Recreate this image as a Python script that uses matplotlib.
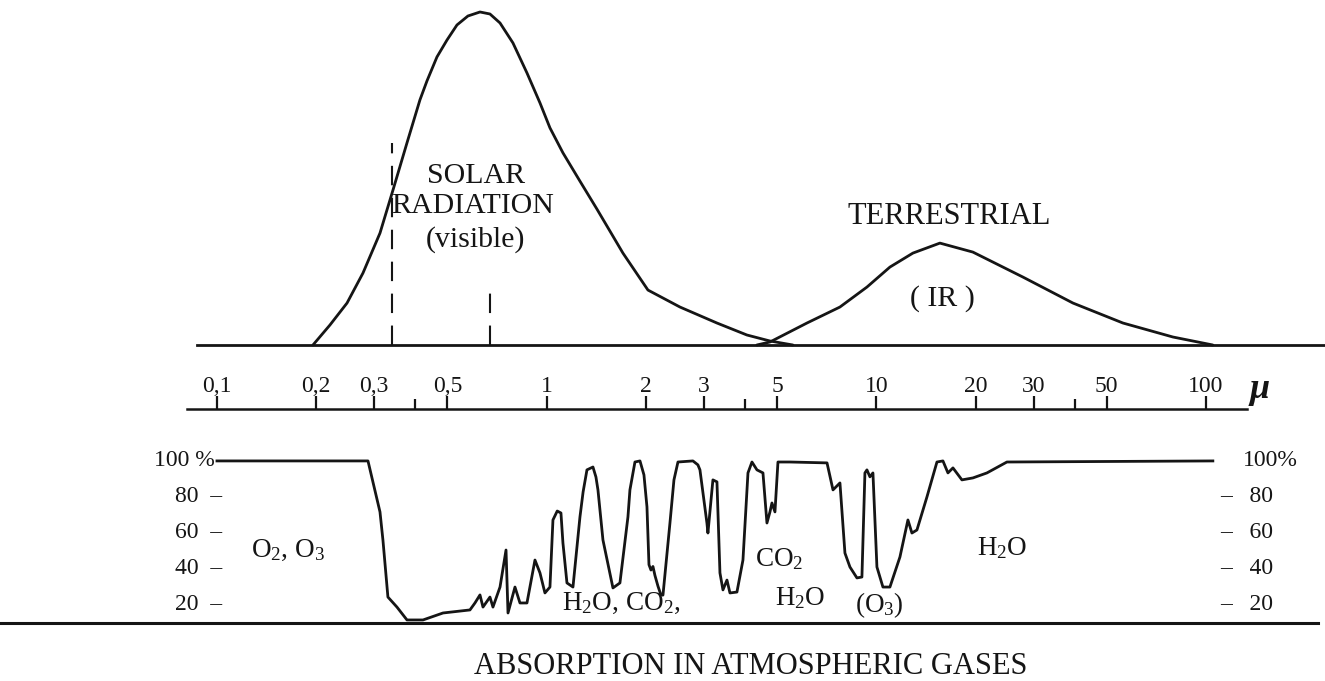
import matplotlib
matplotlib.use('Agg')
import matplotlib.pyplot as plt
from matplotlib.ticker import FixedLocator, FixedFormatter, NullLocator, NullFormatter

# ---------------- data (wavelength in micrometres) ----------------
solar_wl = [0.1955, 0.2201, 0.2480, 0.2772, 0.3122, 0.3418, 0.3770, 0.4127, 0.4335,
            0.4648, 0.4987, 0.5345, 0.5771, 0.6277, 0.6730, 0.7220, 0.7903, 0.8715,
            0.9544, 1.0233, 1.1205, 1.2619, 1.4210, 1.5560, 1.7036, 2.0289, 2.5373,
            3.2852, 4.0508, 4.7569, 5.5855]
solar_val = [0, 6.0, 12.6, 21.6, 33.6, 46.5, 60.7, 73.6, 79.3,
             86.5, 91.6, 96.1, 98.8, 100, 99.4, 96.7, 90.7, 81.7,
             72.7, 65.2, 57.7, 49.2, 40.8, 34.2, 27.6, 16.5, 11.4,
             6.6, 3.0, 1.2, 0]

terr_wl = [4.34, 4.757, 6.160, 7.755, 9.366, 10.996, 12.912, 15.59, 19.63,
           27.84, 39.48, 55.98, 79.36, 104.9]
terr_val = [0, 0.9, 6.6, 11.4, 17.4, 23.4, 27.6, 30.6, 27.9,
            20.4, 12.6, 6.6, 2.4, 0]

visible_wl = [0.3393, 0.673]
visible_top = [60.7, 15.6]

abs_wl = [0.1, 0.2871, 0.3122, 0.3187, 0.3300, 0.3515, 0.3770, 0.4216, 0.4849,
          0.5852, 0.6061, 0.6277, 0.6410, 0.6730, 0.6873, 0.7220, 0.7529, 0.7634,
          0.8015, 0.8299, 0.8715, 0.9216, 0.9544, 0.9881, 1.0233, 1.045, 1.0767,
          1.105, 1.1205, 1.1524, 1.2018, 1.2619, 1.290, 1.3251, 1.3818, 1.411,
          1.4309, 1.4818, 1.5889, 1.6683, 1.7643, 1.789, 1.8527, 1.919, 1.973,
          2.0150, 2.0434, 2.0719, 2.1011, 2.1304, 2.1759, 2.2220, 2.2534, 2.3659,
          2.433, 2.5020, 2.7779, 2.876, 2.9174, 3.0631, 3.0846, 3.1940, 3.2852,
          3.3548, 3.4260, 3.5231, 3.5975, 3.7775, 3.9396, 4.0799, 4.1953, 4.3442,
          4.5303, 4.6583, 4.7569, 4.8241, 4.9263, 5.0307, 5.4702, 7.0862, 7.3890,
          7.7563, 8.0314, 8.3172, 8.7337, 9.0430, 9.2345, 9.3652, 9.5634, 9.7660,
          10.042, 10.472, 10.996, 11.793, 12.470, 12.823, 13.280, 14.242, 15.272,
          15.925, 16.491, 17.078, 18.182, 19.634, 21.656, 24.896, 104.9]
abs_pct = [100, 100, 71.5, 55.8, 23.9, 18.3, 11.1, 11.1, 15.0,
           16.7, 20.6, 25.1, 18.3, 23.9, 18.3, 29.5, 50.2, 15.0,
           29.5, 20.6, 20.6, 44.6, 37.4, 26.2, 29.5, 67.0, 72.0,
           70.9, 54.1, 31.8, 29.5, 68.7, 82.7, 95.0, 96.6, 91.0,
           83.8, 55.8, 29.0, 31.8, 68.7, 83.8, 99.4, 100, 92.2,
           74.3, 42.0, 39.0, 41.0, 36.0, 30.0, 25.0, 25.0, 65.3,
           89.4, 99.4, 100, 97.8, 95.0, 65.3, 59.7, 89.4, 88.3,
           37.4, 27.9, 33.4, 26.2, 26.7, 44.6, 93.3, 99.4, 95.0,
           93.3, 65.3, 71.5, 76.5, 71.5, 99.4, 99.4, 98.9, 83.8,
           87.7, 48.5, 40.7, 34.6, 35.1, 93.3, 95.0, 91.1, 93.3,
           40.7, 29.5, 29.5, 46.3, 67.0, 59.7, 61.4, 79.9, 99.4,
           100, 93.3, 96.1, 89.4, 90.5, 93.3, 99.4, 100]

axis_ticks = [0.1, 0.2, 0.3, 0.5, 1, 2, 3, 5, 10, 20, 30, 50, 100]
axis_labels = ['0,1', '0,2', '0,3', '0,5', '1', '2', '3', '5', '10', '20', '30', '50', '100']
axis_minor = [0.4, 4, 40]
pct_ticks = [100, 80, 60, 40, 20]

# ---------------- style ----------------
plt.rcParams.update({
    'font.family': ['Liberation Serif', 'DejaVu Serif'],
    'mathtext.fontset': 'custom',
    'mathtext.rm': 'Liberation Serif',
    'mathtext.it': 'Liberation Serif:italic',
    'mathtext.default': 'regular',
    'lines.scale_dashes': False,
})
INK = '#151515'
W, H = 1325, 681
fig = plt.figure(figsize=(W / 100, H / 100), dpi=100)
fig.patch.set_facecolor('white')


def fy(px):
    return 1 - px / H


XLIM = (0.02197, 229.6)


def base_axes(rect):
    ax = fig.add_axes(rect)
    ax.set_xscale('log')
    ax.set_xlim(*XLIM)
    ax.patch.set_visible(False)
    for s in ax.spines.values():
        s.set_visible(False)
    ax.xaxis.set_major_locator(NullLocator())
    ax.xaxis.set_minor_locator(NullLocator())
    ax.yaxis.set_major_locator(NullLocator())
    ax.yaxis.set_minor_locator(NullLocator())
    return ax


# ---------------- top: emission curves ----------------
ax_top = base_axes([0, fy(345), 1, 345 / H])
ax_top.set_ylim(0, 103.6)
ax_top.spines['bottom'].set_visible(True)
ax_top.spines['bottom'].set_bounds(0.087, XLIM[1])
ax_top.spines['bottom'].set_linewidth(2.0)
ax_top.spines['bottom'].set_color(INK)
ax_top.plot(solar_wl, solar_val, color=INK, lw=2.0, solid_joinstyle='round',
            solid_capstyle='round', clip_on=False)
ax_top.plot(terr_wl, terr_val, color=INK, lw=2.0, solid_joinstyle='round',
            solid_capstyle='round', clip_on=False)
for wl, top in zip(visible_wl, visible_top):
    ax_top.plot([wl, wl], [0, top], color=INK, lw=1.5, linestyle=(0, (14, 9)))

tkw = dict(color=INK, fontsize=21.5, ha='center', va='center')
ax_top.text(0.6104, 50.8, 'SOLAR', **tkw)
ax_top.text(0.5977, 41.7, 'RADIATION', **tkw)
ax_top.text(0.6104, 31.8, '(visible)', **tkw)
ax_top.text(16.6, 38.7, 'TERRESTRIAL', fontsize=22, color=INK, ha='center', va='center')
ax_top.text(15.92, 14.1, '( IR )', **tkw)

# ---------------- middle: wavelength scale ----------------
ax_mid = base_axes([0, fy(409) - 0.02, 1, 0.02])
ax_mid.spines['top'].set_visible(True)
ax_mid.spines['top'].set_bounds(0.0811, 133.2)
ax_mid.spines['top'].set_linewidth(1.8)
ax_mid.spines['top'].set_color(INK)
ax_mid.xaxis.set_ticks_position('top')
ax_mid.xaxis.set_major_locator(FixedLocator(axis_ticks))
ax_mid.xaxis.set_major_formatter(FixedFormatter(axis_labels))
ax_mid.xaxis.set_minor_locator(FixedLocator(axis_minor))
ax_mid.xaxis.set_minor_formatter(NullFormatter())
ax_mid.tick_params(axis='x', which='major', direction='out', length=9.5, width=1.6,
                   color=INK, labelcolor=INK, labelsize=17, pad=-1)
ax_mid.tick_params(axis='x', which='minor', direction='out', length=7, width=1.6, color=INK)
fig.text(1260 / W, fy(389), 'μ', fontsize=26, color=INK, ha='center', va='center',
         fontstyle='italic', fontweight='bold')

# ---------------- bottom: absorption ----------------
ax_bot = base_axes([0, fy(623), 1, (623 - 440) / H])
ax_bot.set_ylim(9.4, 111.7)
ax_bot.spines['bottom'].set_visible(True)
ax_bot.spines['bottom'].set_bounds(0.0222, 219.0)
ax_bot.spines['bottom'].set_linewidth(2.2)
ax_bot.spines['bottom'].set_color(INK)
ax_bot.plot(abs_wl, abs_pct, color=INK, lw=2.0, solid_joinstyle='round')

for v in pct_ticks:
    if v == 100:
        ax_bot.text(0.0986, v, '100 %', fontsize=17, color=INK, ha='right', va='center')
        ax_bot.text(129.4, v, '100%', fontsize=17, color=INK, ha='left', va='center')
    else:
        ax_bot.text(0.1035, v, f'{v}  –', fontsize=17, color=INK, ha='right', va='center')
        ax_bot.text(110.5, v, f'–   {v}', fontsize=17, color=INK, ha='left', va='center')

gkw = dict(color=INK, fontsize=19.5, va='baseline', ha='left')
ax_bot.text(0.127, 46.3, r'O$_2$, O$_3$', **gkw)
ax_bot.text(1.113, 16.7, r'H$_2$O, CO$_2$,', **gkw)
ax_bot.text(4.283, 41.3, r'CO$_2$', **gkw)
ax_bot.text(4.925, 19.5, r'H$_2$O', **gkw)
ax_bot.text(8.612, 15.5, r'(O$_3$)', **gkw)
ax_bot.text(20.19, 47.4, r'H$_2$O', **gkw)

fig.text(751 / W, fy(666), 'ABSORPTION IN ATMOSPHERIC GASES', fontsize=22, color=INK,
         ha='center', va='center')

fig.savefig('out.png', dpi=100, facecolor='white')
